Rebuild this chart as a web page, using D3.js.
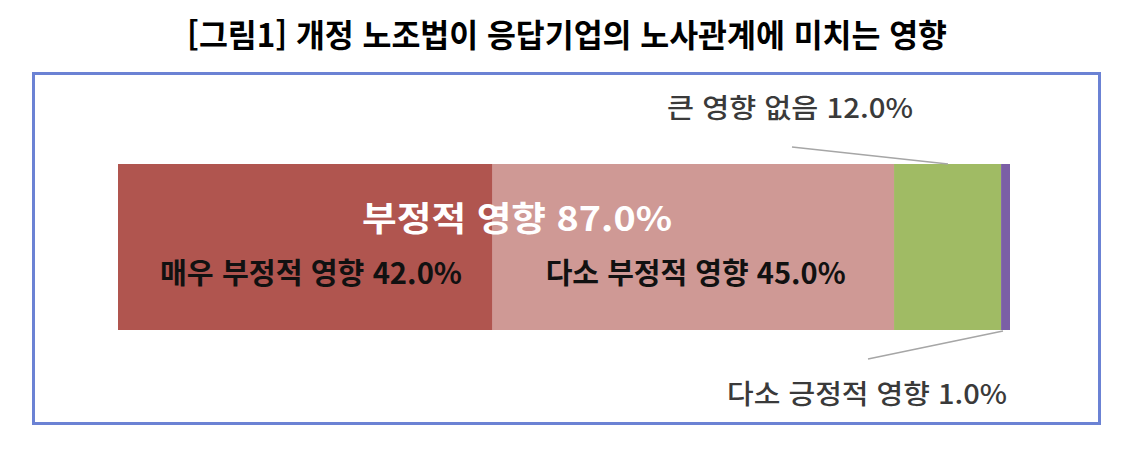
<!DOCTYPE html>
<html lang="ko">
<head>
    <meta charset="UTF-8">
    <title>개정 노조법 영향</title>
    <script src="https://d3js.org/d3.v7.min.js"></script>
    <style>
        body { margin: 0; background: #fff; }
        text { font-family: 'Noto Sans CJK KR', 'Noto Sans', sans-serif; }
    </style>
</head>
<body>
    <div id="chart"></div>
    <script>
        // data
        const categories = ["매우 부정적 영향", "다소 부정적 영향", "큰 영향 없음", "다소 긍정적 영향"];
        const values = [42.0, 45.0, 12.0, 1.0];
        const colors = ["#b0554f", "#cf9995", "#a0bb64", "#7b5fa5"];
        const groupLabel = "부정적 영향";
        const groupValue = 87.0;
        const title = "[그림1] 개정 노조법이 응답기업의 노사관계에 미치는 영향";

        const W = 1148, H = 452;

        const svg = d3.select("#chart")
            .append("svg")
            .attr("width", W)
            .attr("height", H);

        // title
        svg.append("text")
            .attr("x", 187)
            .attr("y", 47)
            .attr("textLength", 760)
            .attr("lengthAdjust", "spacingAndGlyphs")
            .style("font-size", "32px")
            .style("font-weight", "bold")
            .style("fill", "#000")
            .text(title);

        // frame
        svg.append("rect")
            .attr("x", 33.5)
            .attr("y", 73.5)
            .attr("width", 1066)
            .attr("height", 350)
            .style("fill", "none")
            .style("stroke", "#6b82d4")
            .style("stroke-width", 3);

        const x = d3.scaleLinear()
            .domain([0, 100])
            .range([118, 1010]);
        const y = d3.scaleBand()
            .domain(["all"])
            .range([164, 330]);

        // stacked segments
        let acc = 0;
        const segs = values.map((v, i) => {
            const s = {name: categories[i], value: v, x0: acc, x1: acc + v, color: colors[i]};
            acc += v;
            return s;
        });

        svg.selectAll("rect.seg")
            .data(segs)
            .join("rect")
            .attr("class", "seg")
            .attr("x", d => x(d.x0))
            .attr("y", y("all"))
            .attr("width", d => x(d.x1) - x(d.x0))
            .attr("height", y.bandwidth())
            .style("fill", d => d.color);

        const fmt = d => d.toFixed(1) + "%";

        // inner labels for the two big segments
        const innerPos = [{dx: 42, len: 302}, {dx: 53, len: 300}];
        svg.selectAll("text.inner")
            .data(segs.slice(0, 2))
            .join("text")
            .attr("class", "inner")
            .attr("x", (d, i) => x(d.x0) + innerPos[i].dx)
            .attr("y", 284)
            .attr("textLength", (d, i) => innerPos[i].len)
            .attr("lengthAdjust", "spacingAndGlyphs")
            .style("font-size", "29px")
            .style("font-weight", "bold")
            .style("fill", "#111")
            .text(d => d.name + " " + fmt(d.value));

        // group label
        svg.append("text")
            .attr("x", 362)
            .attr("y", 231)
            .attr("textLength", 310)
            .attr("lengthAdjust", "spacingAndGlyphs")
            .style("font-size", "34px")
            .style("font-weight", "bold")
            .style("fill", "#fff")
            .text(groupLabel + " " + fmt(groupValue));

        // callouts for the small segments
        const callouts = [
            {seg: segs[2], line: [[792, 147], [948, 164]], tx: 667, ty: 118, len: 246},
            {seg: segs[3], line: [[868, 359], [1003, 331]], tx: 727, ty: 404, len: 280}
        ];

        svg.selectAll("line.leader")
            .data(callouts)
            .join("line")
            .attr("class", "leader")
            .attr("x1", d => d.line[0][0])
            .attr("y1", d => d.line[0][1])
            .attr("x2", d => d.line[1][0])
            .attr("y2", d => d.line[1][1])
            .style("stroke", "#a6a6a6")
            .style("stroke-width", 1.5);

        svg.selectAll("text.callout")
            .data(callouts)
            .join("text")
            .attr("class", "callout")
            .attr("x", d => d.tx)
            .attr("y", d => d.ty)
            .attr("textLength", d => d.len)
            .attr("lengthAdjust", "spacingAndGlyphs")
            .style("font-size", "27px")
            .style("font-weight", 500)
            .style("fill", "#3a3a3a")
            .text(d => d.seg.name + " " + fmt(d.seg.value));
    </script>
</body>
</html>
